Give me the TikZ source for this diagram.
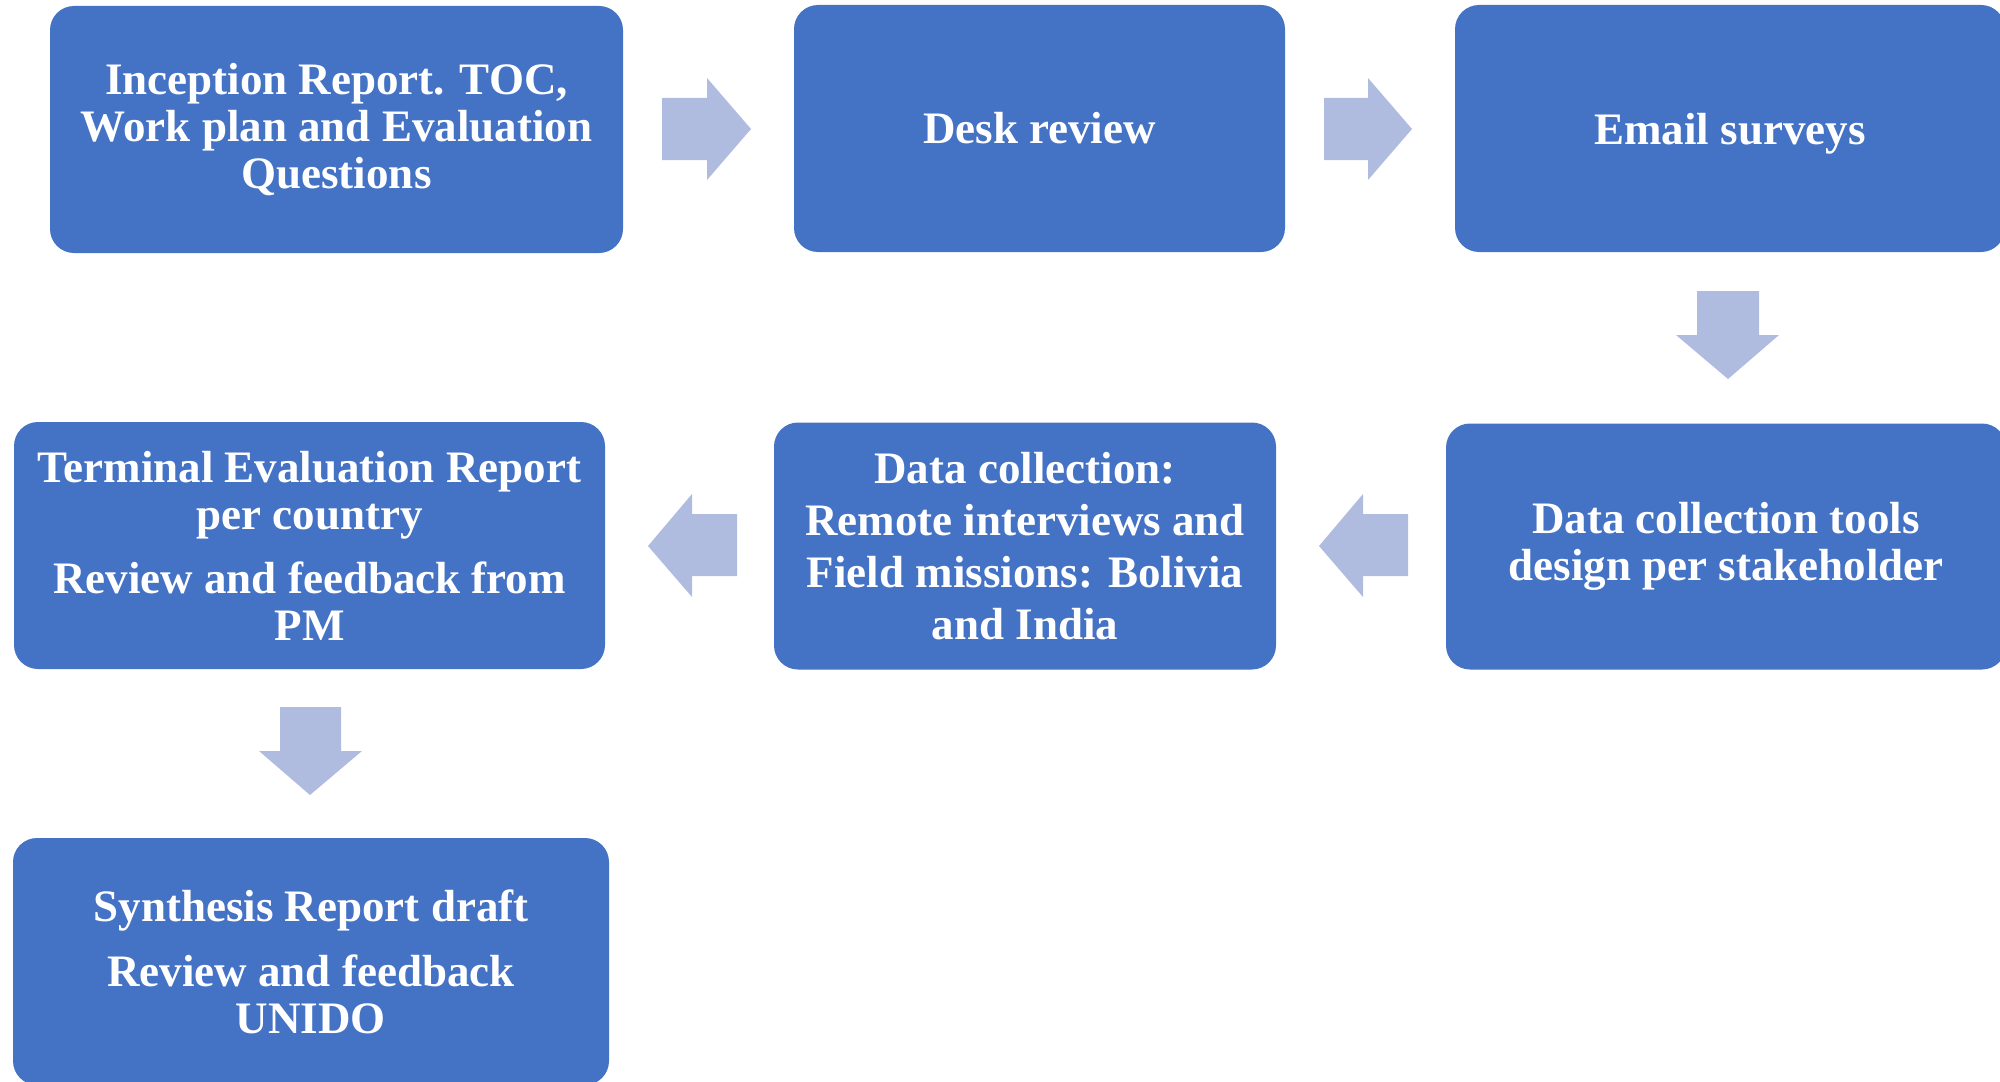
\documentclass[tikz,border=0pt]{standalone}
\usepackage{fontspec}
\setmainfont{Liberation Serif}
\definecolor{boxblue}{HTML}{4472C4}
\definecolor{arrowblue}{HTML}{AFBCDF}
\begin{document}
\begin{tikzpicture}[x=0.5pt,y=-0.5pt,
  box/.style={rectangle, rounded corners=12pt, fill=boxblue, draw=none,
    inner sep=0pt, align=center, text=white,
    font=\bfseries\fontsize{22.5}{23.5}\selectfont},
  blockarrow/.style={fill=arrowblue, draw=none}]
\useasboundingbox (0,0) rectangle (2000,1081);
% boxes
\node[box, minimum width=286.5pt, minimum height=123.5pt] (b1) at (336.5,129.5)
  {Inception Report. TOC,\\Work plan and Evaluation\\Questions};
\node[box, minimum width=245.5pt, minimum height=123.5pt] (b2) at (1039.5,128.5)
  {Desk review};
\node[box, minimum width=275pt, minimum height=123.5pt, text depth=0pt] (b3) at (1730,128.5)
  {Email surveys};
\node[box, minimum width=280pt, minimum height=123pt] (b4) at (1726,546.5)
  {Data collection tools\\design per stakeholder};
\node[box, minimum width=251pt, minimum height=123.5pt,
  font=\bfseries\fontsize{22.5}{26}\selectfont] (b5) at (1025,546)
  {Data collection:\\Remote interviews and\\Field missions: Bolivia\\and India};
\node[box, minimum width=295.5pt, minimum height=123.5pt] (b6) at (309.5,545.5)
  {Terminal Evaluation Report\\per country\\[8.5pt]Review and feedback from\\PM};
\node[box, minimum width=298pt, minimum height=123.5pt] (b7) at (311,961.5)
  {Synthesis Report draft\\[9pt]Review and feedback\\UNIDO};
% block arrows
\fill[blockarrow] (662,98) -- (707,98) -- (707,78) -- (751,129) -- (707,180) -- (707,160) -- (662,160) -- cycle;
\fill[blockarrow] (1324,98) -- (1368,98) -- (1368,78) -- (1412,129) -- (1368,180) -- (1368,160) -- (1324,160) -- cycle;
\fill[blockarrow] (1697,291) -- (1759,291) -- (1759,335) -- (1779,335) -- (1728,379) -- (1676,335) -- (1697,335) -- cycle;
\fill[blockarrow] (1408,514) -- (1363,514) -- (1363,494) -- (1319,546) -- (1363,597) -- (1363,576) -- (1408,576) -- cycle;
\fill[blockarrow] (737,514) -- (692,514) -- (692,494) -- (648,546) -- (692,597) -- (692,576) -- (737,576) -- cycle;
\fill[blockarrow] (280,707) -- (341,707) -- (341,751) -- (362,751) -- (310,795) -- (259,751) -- (280,751) -- cycle;
\end{tikzpicture}
\end{document}
